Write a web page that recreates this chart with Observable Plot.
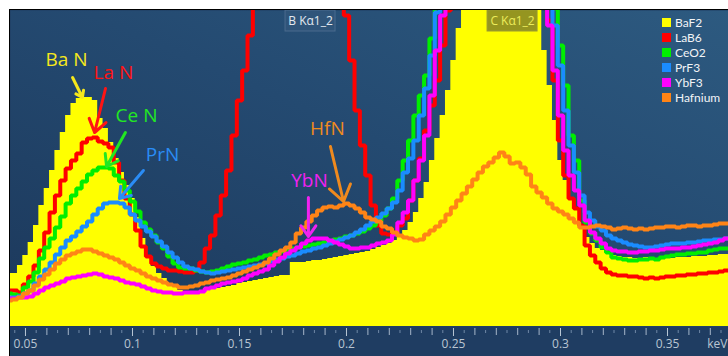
<!DOCTYPE html>
<html>
<head>
<meta charset="utf-8">
<script src="https://cdn.jsdelivr.net/npm/d3@7"></script>
<script src="https://cdn.jsdelivr.net/npm/@observablehq/plot@0.6"></script>
<style>
  html, body { margin: 0; padding: 0; background: #fff; }
  body { position: relative; width: 728px; height: 356px; overflow: hidden; font-family: "Open Sans", "Noto Sans", sans-serif; }
  #chart { position: absolute; left: 9px; top: 9px; width: 719px; }
  #chart svg { display: block; max-width: none; }
  #legend { position: absolute; left: 662px; top: 15px; color: #f2f4f7; font-family: Lato, "Open Sans", sans-serif; font-size: 12px; line-height: 14px; }
  #legend .row { display: flex; align-items: center; height: 15px; overflow: hidden; white-space: nowrap; }
  #legend .sw { width: 9px; height: 9px; margin-right: 4px; flex: none; }
  #legend .lab { display: block; line-height: 14px; height: 14px; }
</style>
</head>
<body>
<div id="chart"></div>
<div id="legend"></div>
<script>
// ---- Data: spectrum channels (keV bins of 0.0025 starting at 0.0425) ----
const keVStart = 0.0425;
const keVStep = 0.0025;

const BaF2 = [53,53,61,71,84,101,121,138,156,176,
194,211,223,228,229,229,226,208,198,184,
168,154,141,128,109,88,71,60,53,48,
43,39,36,34,34,34,35,36,37,38,
39,40,41,43,44,45,46,47,48,49,
50,51,51,64,64,64,65,66,66,67,
68,69,70,71,72,73,74,75,77,79,
81,83,86,90,96,104,114,128,144,166,
188,211,236,266,298,345,345,345,345,345,
345,345,345,345,345,345,345,345,345,345,
276,241,206,166,146,128,116,101,89,83,
78,76,74,71,70,69,69,68,68,69,
68,68,67,68,68,69,69,69,70,70,
70,71,71,72,72,72];

const LaB6 = [36,36,34,42,50,61,76,94,114,131,
146,158,166,173,184,188,189,185,183,179,
164,146,128,112,96,80,70,63,60,58,
56,56,55,54,54,56,64,78,91,111,
131,156,191,226,256,291,345,345,345,345,
345,345,345,345,345,345,345,345,345,345,
345,345,345,311,266,216,181,151,121,101,
93,92,94,101,108,126,146,168,196,221,
246,281,316,345,345,345,345,345,345,345,
345,345,345,345,345,345,345,345,345,345,
345,306,246,186,151,128,118,101,81,71,
64,58,54,52,51,51,50,50,49,48,
49,48,49,50,50,51,51,52,52,53,
53,54,54,55,56,56];

const CeO2 = [33,32,31,39,45,54,68,79,88,99,
110,123,131,138,145,152,156,159,159,158,
151,145,136,125,115,104,97,91,84,78,
70,63,59,58,58,56,55,54,55,56,
58,60,62,63,64,66,67,69,71,72,
74,75,77,78,79,80,81,82,83,84,
85,87,88,90,91,93,95,98,101,105,
111,118,128,146,166,186,211,231,251,288,
321,345,345,345,345,345,345,345,345,345,
345,345,345,345,345,345,345,345,345,345,
345,345,318,281,241,191,166,126,104,93,
86,79,74,69,68,67,66,66,67,67,
68,67,69,70,71,72,72,73,73,74,
74,76,77,78,78,79];

const PrF3 = [29,29,30,33,36,43,50,57,64,72,
79,86,90,95,100,105,112,118,123,124,
124,123,119,112,106,100,95,90,85,80,
74,69,64,60,58,57,55,54,53,54,
55,56,57,58,59,60,61,62,63,65,
67,68,70,71,73,75,76,78,79,81,
83,85,87,89,91,94,97,101,105,109,
113,118,124,136,154,168,186,211,238,271,
314,345,345,345,345,345,345,345,345,345,
345,345,345,345,345,345,345,345,345,345,
345,345,301,261,216,181,154,131,114,106,
100,96,91,88,86,84,82,81,80,79,
79,80,81,82,83,83,83,84,84,85,
86,86,87,87,88,88];

const YbF3 = [28,28,29,29,30,33,36,39,41,43,
45,48,49,50,51,52,53,52,50,49,
48,46,44,43,42,40,38,36,35,34,
34,33,33,34,34,34,35,38,39,41,
43,44,45,46,48,51,53,55,57,61,
65,69,73,76,79,83,86,88,88,88,
86,84,82,80,78,78,79,79,81,83,
84,86,92,104,114,126,146,166,191,231,
276,311,345,345,345,345,345,345,345,345,
345,345,345,345,345,345,345,345,345,345,
345,301,256,211,176,151,136,121,106,94,
88,83,78,76,75,75,74,74,75,75,
76,76,77,78,78,78,79,79,80,81,
82,83,84,86,88,88];

const Hafnium = [26,27,29,33,36,41,47,52,57,63,
67,71,73,75,77,77,75,73,71,69,
67,64,61,58,56,53,50,48,46,44,
42,41,39,39,40,41,43,44,46,47,
48,49,51,53,55,57,59,61,64,68,
72,76,79,84,93,99,105,111,116,119,
120,119,121,123,121,118,114,109,107,105,
100,98,94,91,89,88,86,87,92,96,
100,105,112,119,126,133,140,147,154,160,
164,169,174,170,163,164,159,152,140,134,
129,123,118,115,112,108,104,99,99,100,
101,100,99,97,98,99,98,97,98,97,
98,99,99,100,100,99,100,101,101,100,
101,101,102,103,103,104];

const seriesNames = ["BaF2", "LaB6", "CeO2", "PrF3", "YbF3", "Hafnium"];
const seriesValues = [BaF2, LaB6, CeO2, PrF3, YbF3, Hafnium];
const seriesColors = ["#ffff00", "#ff0000", "#00ee00", "#1a8cff", "#ff00ff", "#ff8416"];

// Tick labels on the energy axis
const majorTicks = [0.05, 0.1, 0.15, 0.2, 0.25, 0.3, 0.35];

// Line markers (energies in keV)
const markerLabels = ["B Kα1_2", "C Kα1_2"];
const markerEnergies = [0.1832, 0.2776];

// Peak annotations
const annoLabels = ["Ba N", "La N", "Ce N", "PrN", "HfN", "YbN"];
const annoColors = ["#f6e81c", "#ff1414", "#22e822", "#2a8cf5", "#f08a1e", "#f022f0"];
const annoTextX = [0.0692, 0.0911, 0.1019, 0.1140, 0.1911, 0.1827];
const annoTextY = [267, 254, 211, 172, 198, 146];
const annoArrowX1 = [0.0720, 0.0874, 0.0967, 0.1051, 0.1925, 0.1822];
const annoArrowY1 = [249, 238, 194, 156, 180, 129];
const annoArrowX2 = [0.0766, 0.0823, 0.0879, 0.0939, 0.1986, 0.1822];
const annoArrowY2 = [229, 194, 160, 128, 125, 90];

// ---- Build tables ----
const rows = [];
seriesNames.forEach((name, s) => {
  seriesValues[s].forEach((v, i) => {
    rows.push({series: name, keV: keVStart + i * keVStep, counts: v});
  });
});
const baRows = rows.filter(d => d.series === "BaF2");
const lineRows = rows.filter(d => d.series !== "BaF2");

const annotations = annoLabels.map((label, i) => ({
  label, color: annoColors[i],
  x: annoTextX[i], y: annoTextY[i],
  x1: annoArrowX1[i], y1: annoArrowY1[i], x2: annoArrowX2[i], y2: annoArrowY2[i]
}));
const markers = markerLabels.map((label, i) => ({label, keV: markerEnergies[i], i}));

const minorTicks = d3.range(9, 76).map(k => +(k * 0.005).toFixed(3));
const midTicks = minorTicks.filter((t, k) => (k + 9) % 2 === 0 && !majorTicks.includes(t));
const smallTicks = minorTicks.filter((t, k) => (k + 9) % 2 === 1);

const halfBox = 0.01168;
const plotTop = 316;

const chart = Plot.plot({
  width: 718,
  height: 346,
  marginTop: 0,
  marginLeft: 0,
  marginRight: 0,
  marginBottom: 30,
  x: {domain: [0.043, 0.3785]},
  y: {domain: [0, plotTop], axis: null},
  color: {domain: seriesNames, range: seriesColors},
  clip: true,
  marks: [
    Plot.frame({fill: "url(#bgGrad)", stroke: "none"}),
    Plot.areaY(baRows, {x: "keV", y: "counts", curve: "step", fill: "#ffff00"}),
    Plot.lineY(lineRows, {x: "keV", y: "counts", z: "series", stroke: "series", curve: "step",
      strokeWidth: 4, strokeLinejoin: "miter", strokeLinecap: "square"}),
    Plot.rect(markers, {x1: d => d.keV - halfBox, x2: d => d.keV + halfBox, y1: plotTop - 21, y2: plotTop,
      fill: d => d.i === 0 ? "#31557b" : "#8a8a24", fillOpacity: 0.9,
      stroke: d => d.i === 0 ? "#4a6b8e" : "#9a9a30", strokeWidth: 1}),
    Plot.text(markers, {x: "keV", y: plotTop - 10.5, text: "label", fontSize: 12,
      fill: d => d.i === 0 ? "#e3e9f0" : "#ecec5c", clip: false}),
    Plot.arrow(annotations, {x1: "x1", y1: "y1", x2: "x2", y2: "y2", stroke: "color",
      strokeWidth: 3, headLength: 10, headAngle: 70}),
    Plot.text(annotations, {x: "x", y: "y", text: "label", fill: "color", fontSize: 19}),
    Plot.axisX(smallTicks, {tickSize: 3, dy: 4, stroke: "#6f88a6", fill: "none", label: null}),
    Plot.axisX(midTicks, {tickSize: 7, dy: 2, stroke: "#a5b6c9", fill: "none", label: null}),
    Plot.axisX(majorTicks, {tickSize: 8, dy: 2, stroke: "#b8c6d4", fill: "none", label: null}),
    Plot.axisX(majorTicks, {tickSize: 0, tickPadding: 13, fill: "#b9c5d2", fontSize: 12,
      tickFormat: d => String(+d.toFixed(2)), label: null}),
    Plot.text(["keV"], {frameAnchor: "bottom-right", text: d => d, dy: 13, dx: -1, lineAnchor: "top",
      textAnchor: "end", fill: "#b9c5d2", fontSize: 12, clip: false})
  ]
});

chart.style.background = "#1f3d62";
chart.style.borderLeft = "1px solid #000";
chart.style.borderTop = "1px solid #000";
chart.style.fontFamily = "'Open Sans', 'Noto Sans', sans-serif";
chart.style.maxWidth = "none";

const ns = "http://www.w3.org/2000/svg";
const defs = document.createElementNS(ns, "defs");
defs.innerHTML = '<linearGradient id="bgGrad" x1="0" y1="1" x2="1" y2="0">' +
  '<stop offset="0" stop-color="#1c385b"/><stop offset="0.55" stop-color="#244a71"/>' +
  '<stop offset="1" stop-color="#2d5a80"/></linearGradient>';
chart.insertBefore(defs, chart.firstChild);

document.getElementById("chart").appendChild(chart);

// Legend (HTML overlay)
const legend = document.getElementById("legend");
seriesNames.forEach((name, i) => {
  const row = document.createElement("div");
  row.className = "row";
  const sw = document.createElement("span");
  sw.className = "sw";
  sw.style.background = seriesColors[i];
  const lab = document.createElement("span");
  lab.className = "lab";
  lab.textContent = name;
  row.appendChild(sw);
  row.appendChild(lab);
  legend.appendChild(row);
});
</script>
</body>
</html>
